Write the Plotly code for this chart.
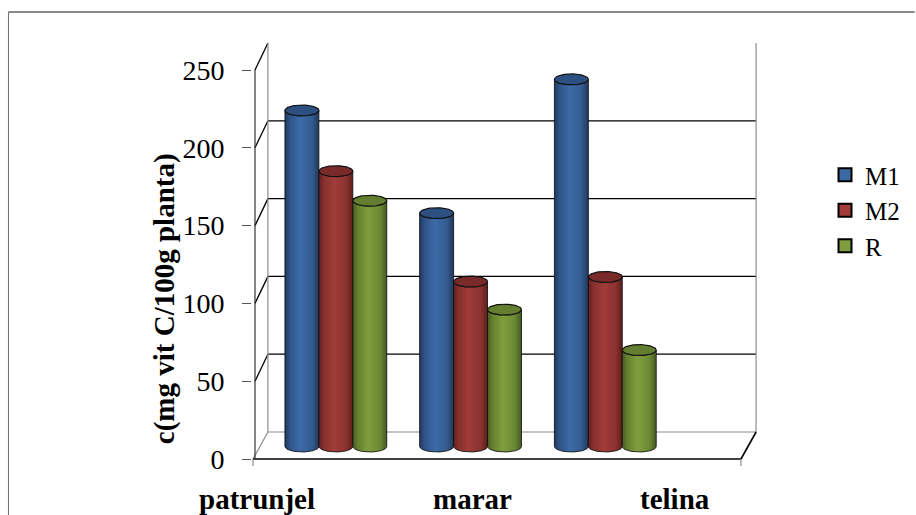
import numpy as np
import plotly.graph_objects as go

# ---- data ----
categories = ["patrunjel", "marar", "telina"]
series_names = ["M1", "M2", "R"]
m1_values = [216, 150, 236]
m2_values = [177, 106, 109]
r_values = [158, 88, 62]
y_tick_values = [0, 50, 100, 150, 200, 250]
series_values = [m1_values, m2_values, r_values]

# ---- styling ----
FONT = "Liberation Serif, Times New Roman, serif"
body_scales = [
    [[0, "#203a60"], [0.15, "#2f5488"], [0.45, "#3d6ba7"], [0.8, "#345c91"], [1, "#1f385c"]],
    [[0, "#62201e"], [0.15, "#87302d"], [0.45, "#a03c39"], [0.8, "#8c3230"], [1, "#5e1e1c"]],
    [[0, "#4a5e22"], [0.15, "#66802f"], [0.45, "#7e9f3d"], [0.8, "#6c8934"], [1, "#475a20"]],
]
top_colors = ["#2d5082", "#7a2a28", "#627e2e"]
legend_colors = ["#3b69a3", "#a33c3a", "#7e9d3f"]

# ---- pseudo-3D geometry (x in category units, y in value units) ----
W, H = 916, 515
ML, MR, MT, MB = 252, 154, 35, 40
PX_PER_UNIT = 1.556          # vertical pixels per value unit
Y0_PX = 459                  # pixel row of value 0 on the front axis
X_UNIT_PX = 135              # pixels per category step
X_ORIGIN_PX = 336            # pixel column of the first group's centre

plot_w = W - ML - MR
plot_h = H - MT - MB
y_lo = (Y0_PX - (H - MB)) / PX_PER_UNIT
y_hi = (Y0_PX - MT) / PX_PER_UNIT
x_lo = (ML - X_ORIGIN_PX) / X_UNIT_PX
x_hi = (W - MR - X_ORIGIN_PX) / X_UNIT_PX

BAR_W = 34 / X_UNIT_PX       # cylinder diameter
BAR_BASE = 8.0               # rise of the bar plane above the front edge
ELL_RY = 3.5                 # vertical half-axis of the cylinder caps
BACK_RISE = 17.35            # rise of the back wall above the front edge
FX_AXIS = -0.60              # front value axis
FX0, FX1 = -0.615, 3.007     # front floor edge
BX0, BX1 = -0.504, 3.119     # back wall edges


def back_y(v):
    return BACK_RISE + v


def px_to_paper(px, py):
    return (px - ML) / plot_w, (H - MB - py) / plot_h


fig = go.Figure()

# ---- walls, floor and gridlines ----
shapes = []


def seg(x0, y0, x1, y1, color="#000000", width=1.3):
    shapes.append(dict(type="line", xref="x", yref="y", x0=x0, y0=y0, x1=x1, y1=y1,
                       line=dict(color=color, width=width), layer="below"))


for v in y_tick_values[1:-1]:
    seg(BX0, back_y(v), BX1, back_y(v))
for v in y_tick_values[1:]:
    seg(FX_AXIS, v, BX0, back_y(v))
seg(BX0, back_y(0), BX0, back_y(y_tick_values[-1]), "#8c8c8c", 1.2)
seg(BX1, back_y(0), BX1, back_y(y_tick_values[-1]), "#8c8c8c", 1.2)
seg(BX0, back_y(0), BX1, back_y(0), "#8c8c8c", 1.2)
seg(FX0, 0, BX0, back_y(0), "#8c8c8c", 1.2)
seg(FX0, 0, FX1, 0, "#000000", 1.6)
seg(FX1, 0, BX1, back_y(0), "#000000", 1.6)
seg(FX_AXIS, 0, FX_AXIS, y_tick_values[-1], "#333333", 1.2)
seg(FX0, 0, FX0, -4.5, "#8c8c8c", 1.2)
seg(FX1, 0, FX1, -4.5, "#8c8c8c", 1.2)

# outer chart border
for (ax, ay, bx, by, col, wd) in [(8, 12, W, 12, "#8a8a8a", 2), (8, 12, 8, H, "#6e6e6e", 1)]:
    x0, y0 = px_to_paper(ax, ay)
    x1, y1 = px_to_paper(bx, by)
    shapes.append(dict(type="line", xref="paper", yref="paper", x0=x0, y0=y0, x1=x1, y1=y1,
                       line=dict(color=col, width=wd)))

# ---- cylinders ----
t_front = np.linspace(np.pi, 2 * np.pi, 40)
t_full = np.linspace(0, 2 * np.pi, 80)
a = BAR_W / 2
for gi in range(len(categories)):
    for si, vals in enumerate(series_values):
        xc = gi + (si - 1) * BAR_W
        y_bot = BAR_BASE
        y_top = BAR_BASE + vals[gi]
        xs = [xc - a, xc - a]
        ys = [y_bot, y_top]
        xs += list(xc + a * np.cos(t_front))
        ys += list(y_top + ELL_RY * np.sin(t_front))
        xs += [xc + a]
        ys += [y_bot]
        xs += list(xc + a * np.cos(t_front[::-1]))
        ys += list(y_bot + ELL_RY * np.sin(t_front[::-1]))
        fig.add_trace(go.Scatter(
            x=xs, y=ys, mode="lines", fill="toself",
            fillgradient=dict(type="horizontal", colorscale=body_scales[si]),
            line=dict(color="rgba(15,15,15,0.85)", width=1),
            showlegend=False, hoverinfo="skip"))
        fig.add_trace(go.Scatter(
            x=list(xc + a * np.cos(t_full)), y=list(y_top + ELL_RY * np.sin(t_full)),
            mode="lines", fill="toself", fillcolor=top_colors[si],
            line=dict(color="#111111", width=1.2),
            showlegend=False, hoverinfo="skip"))

# ---- legend entries ----
for si, name in enumerate(series_names):
    fig.add_trace(go.Scatter(
        x=[None], y=[None], mode="markers", name=name, legendgroup=name,
        marker=dict(symbol="square", size=13, color=legend_colors[si],
                    line=dict(color="#000000", width=2))))

# ---- text ----
annotations = []
label_px = [257.5, 473, 676]
for cat, lx in zip(categories, label_px):
    xp, yp = px_to_paper(lx, 499)
    annotations.append(dict(text=f"<b>{cat}</b>", x=xp, y=yp, xref="paper", yref="paper",
                            showarrow=False, xanchor="center", yanchor="middle",
                            font=dict(family=FONT, size=29, color="#000000")))
tx, ty = px_to_paper(164, 299)
annotations.append(dict(text="<b>c(mg vit C/100g planta)</b>", x=tx, y=ty, xref="paper", yref="paper",
                        showarrow=False, textangle=-90, xanchor="center", yanchor="middle",
                        font=dict(family=FONT, size=29, color="#000000")))

lx, ly = px_to_paper(825, 152)
fig.update_layout(
    width=W, height=H,
    margin=dict(l=ML, r=MR, t=MT, b=MB, pad=0),
    paper_bgcolor="white", plot_bgcolor="white",
    shapes=shapes, annotations=annotations,
    showlegend=True,
    legend=dict(x=lx, y=ly, xanchor="left", yanchor="top", traceorder="grouped",
                tracegroupgap=0, bgcolor="rgba(0,0,0,0)",
                font=dict(family=FONT, size=25, color="#000000")),
    xaxis=dict(range=[x_lo, x_hi], showgrid=False, zeroline=False, showticklabels=False,
               showline=False, ticks=""),
    yaxis=dict(range=[y_lo, y_hi], tickvals=y_tick_values, showgrid=False, zeroline=False,
               showline=False, ticks="outside", ticklen=9, tickcolor="#555555", tickwidth=1,
               ticklabelstandoff=12,
               tickfont=dict(family=FONT, size=28, color="#000000")),
)

fig.write_html("out.html")
